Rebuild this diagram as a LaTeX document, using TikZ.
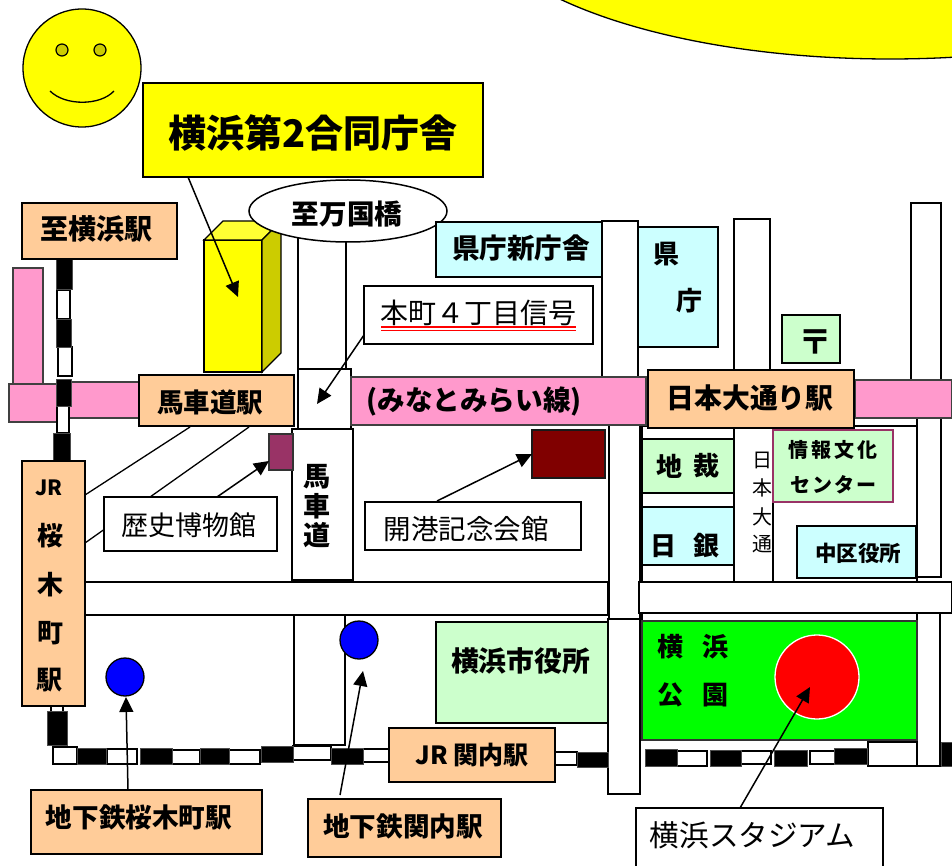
\documentclass[tikz,border=0pt]{standalone}
\usepackage{fontspec}
\setmainfont{Noto Sans CJK JP}
\usetikzlibrary{arrows.meta,shapes.geometric}
\newcommand\fs[1]{\fontsize{#1}{#1}\selectfont}
\newcommand\bx[7][]{\node[#2,anchor=north west,inner sep=0pt,outer sep=0pt,minimum width={#5-#3},minimum height={#6-#4},#1] (n#3x#4) at (#3,#4) {#7};}
\newcommand\rr[5]{\path[#1] (#2,#3) rectangle (#4,#5);}
\definecolor{stn}{HTML}{FFCC99}
\definecolor{pk}{HTML}{FF99CC}
\definecolor{lg}{HTML}{CCFFCC}
\definecolor{lc}{HTML}{CCFFFF}
\definecolor{plum}{HTML}{993366}
\definecolor{yl}{RGB}{255,255,0}
\definecolor{ylt}{RGB}{255,255,51}
\definecolor{yld}{RGB}{204,204,0}
\definecolor{gr}{RGB}{0,255,0}
\definecolor{rd}{RGB}{255,0,0}
\definecolor{bl}{RGB}{0,0,255}
\definecolor{mar}{RGB}{128,0,0}
\tikzset{
 x=1pt,y=-1pt,
 road/.style={draw=black,fill=white,line width=1.5pt},
 pinkbar/.style={draw=black!75,fill=pk,line width=1.2pt},
 blk/.style={draw=black!70,fill=black,line width=.8pt},
 wht/.style={draw=black,fill=white,line width=1.3pt},
 station/.style={draw=black,fill=stn,line width=1.6pt},
 gbox/.style={draw=black,fill=lg,line width=1.6pt},
 cbox/.style={draw=black,fill=lc,line width=1.6pt},
 whitebox/.style={draw=black,fill=white,line width=1.5pt},
 lbl/.style={inner sep=0pt,font=\bfseries\fs{26}},
 plain lbl/.style={inner sep=0pt,font=\fs{28}},
 thin lbl/.style={inner sep=0pt,font=\fs{20}},
 arr/.style={draw=black,line width=1.5pt,-{Triangle[length=15pt,width=14pt]}},
 leader/.style={draw=black,line width=1.3pt},
}
\begin{document}
\begin{tikzpicture}
\useasboundingbox (0,0) rectangle (952,866);
% sun
\begin{scope}
\clip (0,0) rectangle (952,866);
\draw[fill=yl,line width=1.3pt] (890,-100) ellipse [x radius=422,y radius=159];
\end{scope}
% face
\node[circle,draw=black,fill=yl,line width=1.3pt,minimum size=118pt,inner sep=0pt] (face) at (82,68) {};
\node[circle,draw=black,fill=yld,line width=1.2pt,minimum size=12pt,inner sep=0pt] (eyeL) at (62,50) {};
\node[circle,draw=black,fill=yld,line width=1.2pt,minimum size=12pt,inner sep=0pt] (eyeR) at (100,50) {};
\draw[line width=1.3pt] (50,91) .. controls (65,106) and (100,106) .. (114,91);
% roads
\rr{road}{298}{225}{346}{369}
\rr{road}{298}{369}{351}{429}
\rr{road}{294}{615}{345}{745}
\rr{road}{602}{221}{638}{380}
\rr{road}{734}{219}{770}{375}
\rr{road}{911}{203}{941}{385}
\rr{road}{917}{415}{941}{577}
\rr{road}{642}{426}{734}{582}
\rr{road}{734}{426}{773}{582}
\rr{road}{773}{426}{917}{582}
\rr{road}{609}{424}{640}{619}
\rr{road}{85}{582}{608}{615}
\rr{road}{642}{613}{917}{622}
\rr{road}{639}{582}{952}{613}
\rr{road}{917}{613}{940}{766}
\rr{road}{608}{619}{640}{794}
% leaders behind boxes
\draw[leader] (190,427) -- (85,495);
\draw[leader] (249,427) -- (85,543);
% pink
\rr{pinkbar}{13}{268}{43}{384}
\rr{pinkbar}{57}{382}{140}{418}
\rr{pinkbar}{9}{384}{57}{422}
\rr{pinkbar}{351}{377}{646}{425}
\rr{pinkbar}{855}{380}{952}{418}
% railway
\foreach \a/\b/\c/\d in {57/290/70/319,58/347/72/376,57/406/69/433,51/704/63/712,53/747/77/764,107/749/137/764,172/750/200/764,229/750/260/764,293/746/331/760,363/749/390/762,555/752/577/765,677/751/707/766,741/751/771/764,810/751/835/764,868/742/917/766}
  {\rr{wht}{\a}{\b}{\c}{\d}}
\foreach \a/\b/\c/\d in {56/259/72/289,56/319/71/347,56/379/71/406,53/433/70/461,47/711/67/745,77/748/106/764,140/748/172/764,200/748/229/764,261/746/293/762,331/748/363/764,577/752/608/767,645/749/677/766,710/750/741/766,774/750/807/766,834/748/867/764,941/742/952/766}
  {\rr{blk}{\a}{\b}{\c}{\d}}
% building
\draw[line width=1.3pt,fill=yl] (204,240) rectangle (262,372);
\draw[line width=1.3pt,fill=ylt] (204,240) -- (223,221) -- (281,221) -- (262,240) -- cycle;
\draw[line width=1.3pt,fill=yld] (262,240) -- (281,221) -- (281,353) -- (262,372) -- cycle;
% title and ellipse
\bx[line width=1.8pt]{draw=black,fill=yl}{143}{83}{483}{177}{}
\node[lbl,font=\bfseries\fs{38}] (title) at (313,133) {横浜第2合同庁舎};
\node[ellipse,draw=black,fill=white,line width=1.5pt,minimum width=198pt,minimum height=62pt,inner sep=0pt] (ell) at (348,211) {};
\node[lbl,font=\bfseries\fs{27.6}] (ellt) at (347,214) {至万国橋};
% stations
\bx{station}{22}{203}{177}{259}{}
\node[lbl,font=\bfseries\fs{28}] (tyoko) at (96,229) {至横浜駅};
\bx{station}{139}{375}{294}{426}{}
\node[lbl,font=\bfseries\fs{26.5}] (tbasha) at (210,402) {馬車道駅};
\bx[line width=2.4pt]{station}{648}{370}{854}{428}{}
\node[lbl,font=\bfseries\fs{27.8}] (tnihon) at (750,398) {日本大通り駅};
\bx{station}{22}{461}{85}{706}{}
\bx{station}{389}{728}{555}{782}{}
\node[lbl,font=\bfseries\fs{25}] (tkan) at (472,755) {JR 関内駅};
\bx{station}{31}{790}{262}{854}{}
\node[lbl,font=\bfseries\fs{26.6}] (tsaku) at (139,817) {地下鉄桜木町駅};
\bx{station}{308}{799}{501}{857}{}
\node[lbl,font=\bfseries\fs{26.6}] (tchika) at (403,826) {地下鉄関内駅};
\node[lbl,font=\bfseries\fs{21}] (jr) at (49,488) {JR};
\node[lbl] (j1) at (50,536) {桜};
\node[lbl] (j2) at (50,585) {木};
\node[lbl] (j3) at (50,633) {町};
\node[lbl] (j4) at (49,680) {駅};
% white label boxes
\bx{road}{292}{429}{353}{580}{}
\node[lbl,font=\bfseries\fs{27}] (b1) at (317,477) {馬};
\node[lbl,font=\bfseries\fs{27}] (b2) at (317,506) {車};
\node[lbl,font=\bfseries\fs{27}] (b3) at (317,535) {道};
\bx{whitebox}{364}{286}{593}{344}{}
\node[plain lbl] (honcho) at (478.5,312.5) {本町４丁目信号};
\draw[rd,line width=1.3pt] (381,327) -- (576,327) (381,330.5) -- (576,330.5);
\bx{whitebox}{104}{497}{277}{551}{}
\node[plain lbl,font=\fs{27}] (reki) at (188.5,525) {歴史博物館};
\bx{whitebox}{365}{502}{581}{550}{}
\node[plain lbl,font=\fs{27.5}] (kaiko) at (466,529) {開港記念会館};
\bx{whitebox}{636}{808}{883}{880}{}
\node[plain lbl,font=\fs{29.6}] (stad) at (752.5,835) {横浜スタジアム};
% buildings
\bx{cbox}{436}{222}{602}{277}{}
\node[lbl,font=\bfseries\fs{27.6}] (shin) at (521,248) {県庁新庁舎};
\bx{cbox}{638}{227}{718}{347}{}
\node[lbl] (k1) at (666,254) {県};
\node[lbl] (k2) at (689,301) {庁};
\bx{gbox}{782}{315}{840}{363}{}
\node[lbl,font=\bfseries\fs{34}] (post) at (815,342) {〒};
\bx{gbox}{642}{439}{734}{493}{}
\node[lbl] (c1t) at (669,466) {地};
\node[lbl] (c2t) at (706,466) {裁};
\bx{cbox}{642}{507}{734}{565}{}
\node[lbl] (n1) at (663,546) {日};
\node[lbl] (n2) at (706,546) {銀};
\bx[draw=plum]{gbox}{773}{430}{893}{502}{}
\node[lbl,font=\bfseries\fs{20}] (i1) at (833,450) {情\hspace{3pt}報\hspace{3pt}文\hspace{3pt}化};
\node[lbl,font=\bfseries\fs{20}] (i2) at (833,485) {セ\hspace{2pt}ン\hspace{2pt}タ\hspace{2pt}ー};
\bx{cbox}{797}{526}{916}{578}{}
\node[lbl,font=\bfseries\fs{21.5}] (naka) at (858,553) {中区役所};
\bx{gbox}{436}{622}{608}{723}{}
\node[lbl,font=\bfseries\fs{27.8}] (shi) at (520.5,661) {横浜市役所};
\node[thin lbl] (h1) at (762,460) {日};
\node[thin lbl] (h2) at (762,488) {本};
\node[thin lbl] (h3) at (762,517) {大};
\node[thin lbl] (h4) at (762,544) {通};
\node[lbl,font=\bfseries\fs{27.6}] (mm) at (474,402) {(みなとみらい線)};
% park
\bx{draw=black!80,fill=gr,line width=1.5pt}{642}{621}{917}{740}{}
\node[lbl] (p1) at (670,647) {横};
\node[lbl] (p2) at (715,647) {浜};
\node[lbl] (p3) at (670,695) {公};
\node[lbl] (p4) at (715,695) {園};
\node[circle,draw=white,fill=rd,line width=1.3pt,minimum size=84pt,inner sep=0pt] (stadium) at (817,677) {};
% coloured blocks
\bx[line width=1.4pt]{draw=black!80,fill=plum}{269}{434}{293}{470}{}
\bx[line width=1.6pt]{draw=black!90,fill=mar}{532}{430}{605}{478}{}
\node[circle,draw=black,fill=bl,line width=1.3pt,minimum size=38pt,inner sep=0pt] (c1) at (125,677) {};
\node[circle,draw=black,fill=bl,line width=1.3pt,minimum size=38pt,inner sep=0pt] (c2) at (359,640) {};
% connectors
\coordinate (t0) at (188,177); \coordinate (t1) at (238,297);
\draw[arr] (t0) -- (t1);
\coordinate (h0) at (364,335); \coordinate (h1e) at (317,404);
\draw[arr] (h0) -- (h1e);
\coordinate (r0) at (217,497); \coordinate (r1) at (269,461);
\draw[arr] (r0) -- (r1);
\coordinate (k0) at (437,501); \coordinate (k1e) at (532,454);
\draw[arr] (k0) -- (k1e);
\coordinate (s0) at (128,790); \coordinate (s1) at (126,697);
\draw[arr] (s0) -- (s1);
\coordinate (s2) at (340,795); \coordinate (s3) at (363,671);
\draw[arr] (s2) -- (s3);
\coordinate (y0) at (740,808); \coordinate (y1) at (810,687);
\draw[arr] (y0) -- (y1);
\end{tikzpicture}
\end{document}
